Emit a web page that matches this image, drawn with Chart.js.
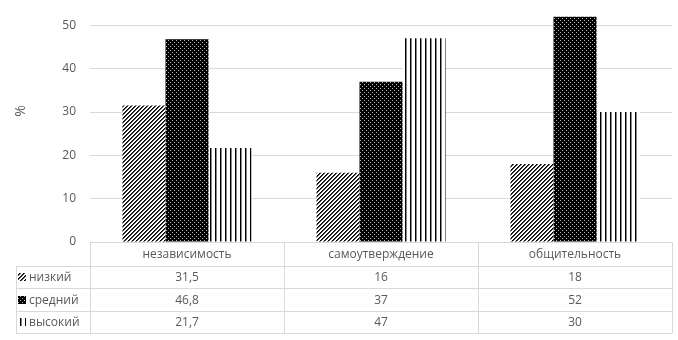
<!DOCTYPE html>
<html>
<head>
<meta charset="utf-8">
<script src="https://cdn.jsdelivr.net/npm/chart.js@4"></script>
<style>
  html, body { margin: 0; padding: 0; background: #fff; }
  #wrap { width: 678px; height: 340px; position: relative; }
</style>
</head>
<body>
<div id="wrap"><canvas id="chart"></canvas></div>
<script>
// data
const categories = ['независимость', 'самоутверждение', 'общительность'];
const seriesNames = ['низкий', 'средний', 'высокий'];
const lowValues = [31.5, 16, 18];
const midValues = [46.8, 37, 52];
const highValues = [21.7, 47, 30];
const yTicks = [0, 10, 20, 30, 40, 50];
const yTitle = '%';

const TEXT = '#595959';
const GRID = '#d9d9d9';
const FONT = '"Open Sans", sans-serif';

// ─── pixel patterns like Excel fills ───
function tile(w, h, paint) {
  const c = document.createElement('canvas');
  c.width = w; c.height = h;
  const g = c.getContext('2d');
  paint(g);
  return document.createElement('canvas').getContext('2d').createPattern(c, 'repeat');
}
const hatch = tile(4, 4, g => {
  g.fillStyle = '#fff'; g.fillRect(0, 0, 4, 4);
  for (let x = 0; x < 4; x++) for (let y = 0; y < 4; y++) {
    const k = (x + y) % 4;
    if (k === 0) { g.fillStyle = '#000'; g.fillRect(x, y, 1, 1); }
    if (k === 1) { g.fillStyle = '#444'; g.fillRect(x, y, 1, 1); }
  }
});
const dots = tile(4, 4, g => {
  g.fillStyle = '#000'; g.fillRect(0, 0, 4, 4);
  g.fillStyle = '#bbb'; g.fillRect(0, 0, 1, 1); g.fillRect(2, 2, 1, 1);
});
const stripes = tile(5, 1, g => {
  g.fillStyle = '#fff'; g.fillRect(0, 0, 5, 1);
  g.fillStyle = '#000'; g.fillRect(0, 0, 1, 1);
  g.fillStyle = '#888'; g.fillRect(1, 0, 1, 1);
});
const fills = [hatch, dots, stripes];
const seriesValues = [lowValues, midValues, highValues];

// ─── axis title + data table under the plot ───
const dataTable = {
  id: 'dataTable',
  afterDraw(chart) {
    const ctx = chart.ctx;
    const area = chart.chartArea;
    const x = chart.scales.x;
    const half = (x.getPixelForValue(1) - x.getPixelForValue(0)) / 2;
    const top = Math.round(area.bottom);
    const headH = 24, rowH = 22.4;
    const tableLeft = 16;
    const rows = [top + headH];
    for (let i = 1; i <= seriesNames.length; i++) rows.push(Math.round(top + headH + rowH * i));
    const bottom = rows[rows.length - 1];

    ctx.save();
    ctx.strokeStyle = GRID;
    ctx.lineWidth = 1;
    ctx.beginPath();
    rows.forEach(y => { ctx.moveTo(tableLeft, y + 0.5); ctx.lineTo(area.right, y + 0.5); });
    ctx.moveTo(tableLeft + 0.5, rows[0]); ctx.lineTo(tableLeft + 0.5, bottom + 0.5);
    for (let i = 0; i <= categories.length; i++) {
      const px = Math.round(x.getPixelForValue(i) - half) + 0.5;
      ctx.moveTo(px, top); ctx.lineTo(px, bottom + 0.5);
    }
    ctx.stroke();

    ctx.fillStyle = TEXT;
    ctx.font = '12px ' + FONT;
    ctx.textBaseline = 'middle';
    ctx.textAlign = 'center';
    categories.forEach((c, i) => ctx.fillText(c, x.getPixelForValue(i), top + headH / 2 + 1));
    seriesNames.forEach((name, r) => {
      const cy = (rows[r] + rows[r + 1]) / 2 + 1;
      ctx.textAlign = 'center';
      ctx.fillStyle = TEXT;
      seriesValues[r].forEach((v, i) => ctx.fillText(String(v).replace('.', ','), x.getPixelForValue(i), cy));
      ctx.fillStyle = fills[r];
      ctx.fillRect(18, Math.round(cy - 5), 8, 8);
      ctx.fillStyle = TEXT;
      ctx.textAlign = 'left';
      ctx.fillText(name, 29, cy);
    });

    // rotated "%" title
    ctx.translate(21, 111);
    ctx.rotate(-Math.PI / 2);
    ctx.textAlign = 'center';
    ctx.font = '14px ' + FONT;
    ctx.fillText(yTitle, 0, 0);
    ctx.restore();
  }
};

new Chart(document.getElementById('chart'), {
  type: 'bar',
  data: {
    labels: categories,
    datasets: seriesNames.map((name, i) => ({
      label: name,
      data: seriesValues[i],
      backgroundColor: fills[i],
      borderWidth: 0,
      categoryPercentage: 0.665,
      barPercentage: 1.0
    }))
  },
  options: {
    responsive: true,
    maintainAspectRatio: false,
    animation: false,
    layout: { padding: { top: 8, bottom: 98, left: 0, right: 6 } },
    plugins: { legend: { display: false }, tooltip: { enabled: false } },
    scales: {
      x: {
        grid: { display: false },
        border: { display: false },
        ticks: { display: false },
        afterFit: s => { s.height = 0; s.paddingLeft = 0; s.paddingRight = 0; }
      },
      y: {
        min: 0, max: 54,
        afterBuildTicks: s => { s.ticks = yTicks.map(v => ({ value: v })); },
        afterFit: s => { s.width = 90; s.paddingTop = 0; s.paddingBottom = 0; },
        grid: { color: GRID, drawTicks: false },
        border: { display: false },
        ticks: { color: TEXT, font: { family: FONT, size: 12 }, padding: 14 }
      }
    }
  },
  plugins: [dataTable]
});
</script>
</body>
</html>
